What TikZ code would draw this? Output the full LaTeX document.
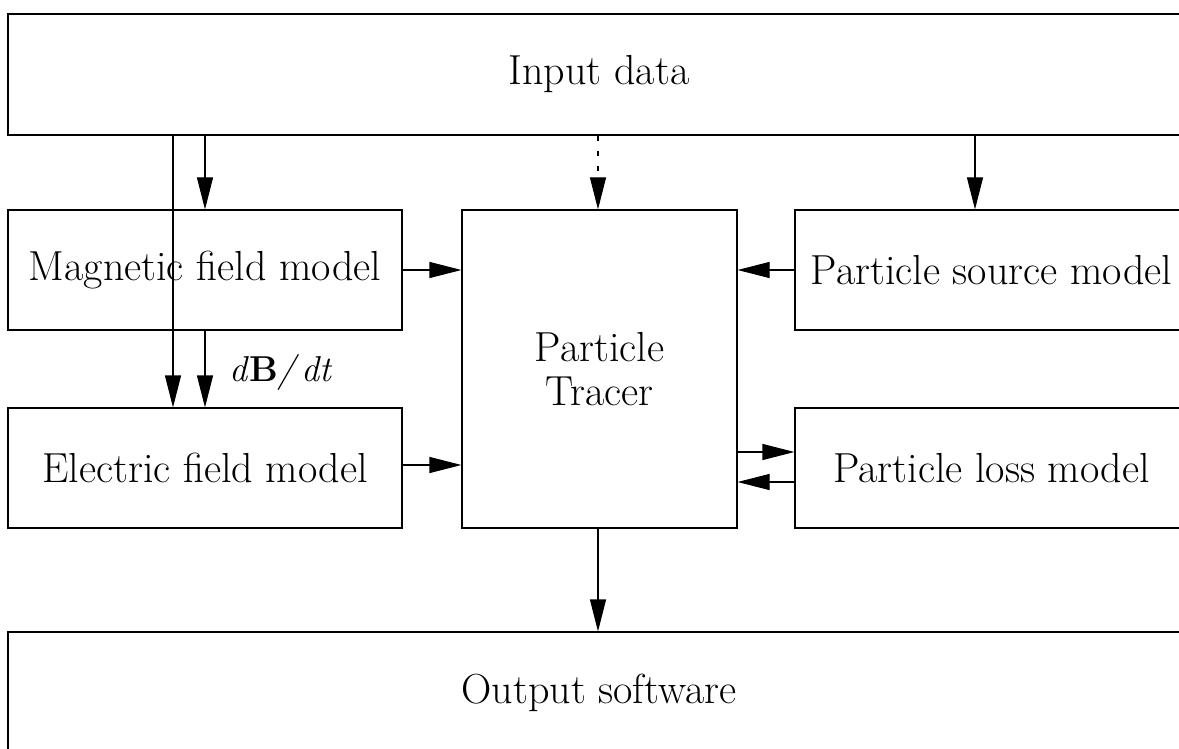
\documentclass[tikz,border=0pt]{standalone}
\usepackage{fontspec}
\usetikzlibrary{arrows.meta}
\tikzset{
  box/.style={draw=black, line width=1.1pt, rectangle, inner sep=0pt, align=center,
    font=\fontsize{42}{44}\selectfont},
  arr/.style={line width=1.1pt, -{Triangle[length=32pt,width=16pt]}},
  dasharr/.style={arr, dash pattern=on 5pt off 10pt}
}
\begin{document}
\begin{tikzpicture}[x=1pt,y=-1pt]
\clip (0,0) rectangle (1179,749);
\fill[white] (0,0) rectangle (1179,749);
\node[box, minimum width=1182pt, minimum height=121pt] (input) at (599,74.5) {Input data};
\node[box, minimum width=394pt, minimum height=120pt] (mag) at (205,270) {Magnetic field model};
\node[box, minimum width=394pt, minimum height=120pt] (elec) at (205,468) {Electric field model};
\node[box, minimum width=275pt, minimum height=318pt] (tracer) at (599.5,369) {Particle\\Tracer};
\node[box, minimum width=393pt, minimum height=120pt] (source) at (991.5,270) {Particle source model};
\node[box, minimum width=393pt, minimum height=120pt] (loss) at (991.5,468) {Particle loss model};
\node[box, minimum width=1182pt, minimum height=121pt] (output) at (599,692.5) {Output software};
\node[font=\fontsize{36}{40}\selectfont, anchor=base west, inner sep=0pt] (dbdt) at (229,381) {\textit{d}\textbf{B}\textit{/\,dt}};
% coordinates
\coordinate (x173) at (173,0);
\coordinate (x205) at (205,0);
\coordinate (x598) at (598,0);
\coordinate (x975) at (975,0);
\coordinate (y452) at (0,452);
\coordinate (y482) at (0,482);
\coordinate (y465) at (0,465);
% vertical arrows
\draw[arr] (input.south -| x173) -- (elec.north -| x173);
\draw[arr] (input.south -| x205) -- (mag.north -| x205);
\draw[arr] (mag.south -| x205) -- (elec.north -| x205);
\draw[dasharr] (input.south -| x598) -- (tracer.north -| x598);
\draw[arr] (input.south -| x975) -- (source.north -| x975);
\draw[arr] (tracer.south -| x598) -- (output.north -| x598);
% horizontal arrows
\draw[arr] (mag.east) -- (tracer.west |- mag.east);
\draw[arr] (source.west) -- (tracer.east |- source.west);
\draw[arr] (elec.east |- y465) -- (tracer.west |- y465);
\draw[arr] (tracer.east |- y452) -- (loss.west |- y452);
\draw[arr] (loss.west |- y482) -- (tracer.east |- y482);
\end{tikzpicture}
\end{document}
